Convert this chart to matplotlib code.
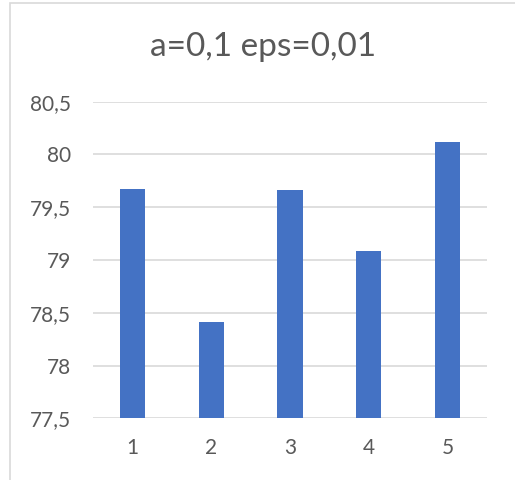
import matplotlib
matplotlib.use("Agg")
import matplotlib.pyplot as plt
from matplotlib.patches import Rectangle

categories = ["1", "2", "3", "4", "5"]
values = [79.67, 78.41, 79.66, 79.09, 80.12]
yticks = [77.5, 78, 78.5, 79, 79.5, 80, 80.5]
ytick_labels = ["77,5", "78", "78,5", "79", "79,5", "80", "80,5"]
title = "a=0,1 eps=0,01"

plt.rcParams["font.family"] = ["Lato", "DejaVu Sans"]

fig = plt.figure(figsize=(5.15, 4.8), dpi=100, facecolor="white")
# chart area border
fig.patches.append(Rectangle((10 / 515, -0.01), 1.1, (480 - 3) / 480 + 0.01,
                             transform=fig.transFigure, fill=False,
                             edgecolor="#D9D9D9", linewidth=1.2))

ax = fig.add_axes([93 / 515, (480 - 418.3) / 480, 394 / 515, (418.3 - 101.7) / 480])
x = range(len(categories))
ax.bar(x, [v - 77.5 for v in values], bottom=77.5, width=0.32,
       color="#4472C4", zorder=3)
ax.set_xlim(-0.5, len(categories) - 0.5)
ax.set_ylim(77.5, 80.5)
ax.set_yticks(yticks)
ax.set_yticklabels(ytick_labels)
ax.set_xticks(list(x))
ax.set_xticklabels(categories)
ax.grid(axis="y", color="#D9D9D9", linewidth=1.2, zorder=0)
ax.tick_params(axis="both", length=0, labelsize=15, colors="#595959")
ax.tick_params(axis="y", pad=16)
ax.tick_params(axis="x", pad=14)
for s in ax.spines.values():
    s.set_visible(False)

fig.text(263 / 515, 1 - 47 / 480, title, ha="center", va="center",
         fontsize=24, color="#595959")

fig.savefig("out.png", dpi=100, facecolor="white")
